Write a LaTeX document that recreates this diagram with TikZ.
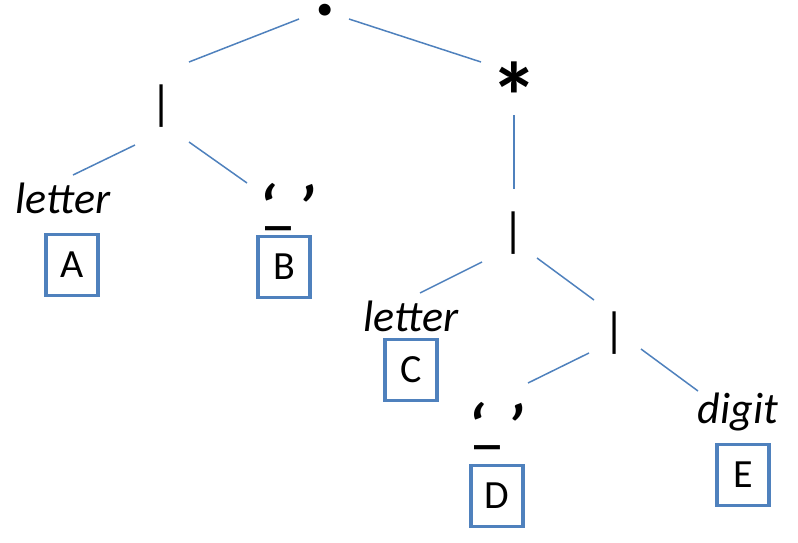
\documentclass[tikz,border=0pt]{standalone}
\usepackage{fontspec}
\setmainfont{Carlito}
\usepackage{tikz}
\usepackage{xcolor}
\definecolor{lineblue}{HTML}{4F81BD}
\newcommand{\treefont}{\fontsize{20}{24}\selectfont}
\newcommand{\bigq}[1]{\raisebox{-9.5pt}{\fontsize{32}{32}\selectfont\bfseries\itshape #1}}
\newcommand{\qmark}{\bigq{‘}\rlap{\kern-5pt\raisebox{-6pt}{\fontsize{26}{26}\selectfont\upshape\bfseries\_}}\kern11pt\bigq{’}}
\tikzset{
	edge/.style={draw=lineblue, line width=0.75pt},
	leaf/.style={draw=lineblue, line width=1.75pt, minimum width=26pt, minimum height=30.5pt, inner sep=0pt},
	op/.style={inner sep=0pt, font=\fontsize{24}{24}\selectfont},
	lbl/.style={inner sep=0pt, font=\fontsize{22}{26}\selectfont\itshape}
}

\begin{document}
\begin{tikzpicture}[x=0.5pt, y=-0.5pt, font=\treefont]
				\useasboundingbox (0,0) rectangle (798,542);
				
				% operators
				\node[op, font=\fontsize{40}{40}\selectfont\bfseries] (root) at (325,10) {.};
				\node[op] (bar1) at (162,106) {|};
				\node[op, font=\fontsize{48}{48}\selectfont\bfseries] (star) at (514,96) {*};
				\node[op] (bar2) at (514,233) {|};
				\node[op] (bar3) at (615,333) {|};
				
				% labels
				\node[lbl] (lblA) at (63,198) {letter};
				\node[lbl, font=\treefont] (qB) at (286,207) {\qmark};
				\node[lbl] (lblC) at (411,316) {letter};
				\node[lbl, font=\treefont] (qD) at (495,426) {\qmark};
				\node[lbl] (lblE) at (738,412) {digit};
				
				% leaves
				\node[leaf] (boxA) at (72,265) {A};
				\node[leaf] (boxB) at (284,267) {B};
				\node[leaf] (boxC) at (411,370) {C};
				\node[leaf] (boxD) at (497,496) {D};
				\node[leaf] (boxE) at (743,475) {E};
				
				% tree lines
				\draw[edge] ([shift={(-26,9)}]root.center) -- ([shift={(27,-44)}]bar1.center);
				\draw[edge] ([shift={(24,9)}]root.center) -- ([shift={(-33,-34)}]star.center);
				\draw[edge] ([shift={(-27,39)}]bar1.center) -- ([shift={(10,-23)}]lblA.center);
				\draw[edge] ([shift={(27,36)}]bar1.center) -- ([shift={(-39,-24)}]qB.center);
				\draw[edge] ([shift={(0,19)}]star.center) -- ([shift={(0,-44)}]bar2.center);
				\draw[edge] ([shift={(-32,29)}]bar2.center) -- ([shift={(9,-23)}]lblC.center);
				\draw[edge] ([shift={(23,25)}]bar2.center) -- ([shift={(-21,-33)}]bar3.center);
				\draw[edge] ([shift={(-26,20)}]bar3.center) -- ([shift={(33,-43)}]qD.center);
				\draw[edge] ([shift={(26,16)}]bar3.center) -- ([shift={(-40,-21)}]lblE.center);
			\end{tikzpicture}
\end{document}
